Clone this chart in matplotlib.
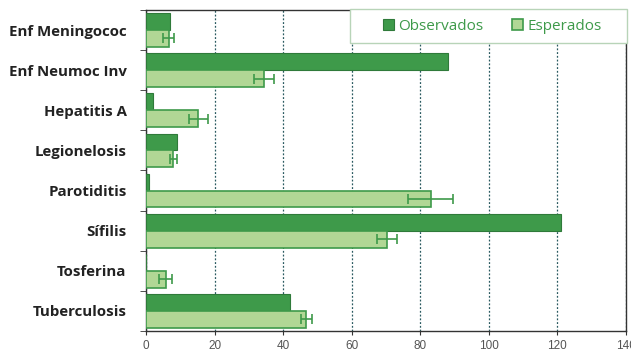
import numpy as np
import matplotlib.pyplot as plt
from matplotlib.ticker import FixedLocator
from matplotlib.patches import Rectangle

########  data  ########

enfermedades = ["Enf Meningococ", "Enf Neumoc Inv", "Hepatitis A", "Legionelosis",
                "Parotiditis", "Sífilis", "Tosferina", "Tuberculosis"]
observados = [7, 88, 2, 9, 1, 121, 0, 42]
esperados = [6.6, 34.3, 15.3, 8.0, 83.0, 70.3, 5.7, 46.8]
error_esp = [1.6, 2.9, 2.8, 1.0, 6.6, 2.8, 2.0, 1.7]

########  style  ########

verde = "#3e9a4a"
verde_claro = "#b1d795"
plt.rcParams["font.family"] = ["Open Sans", "DejaVu Sans"]

fig = plt.figure(figsize=(6.31, 3.51), dpi=100)
ax = fig.add_axes([0.2314, 0.057, 0.7606, 0.9145])

y = np.arange(len(enfermedades))
h = 0.42

ax.barh(y - h / 2, observados, height=h, color=verde, edgecolor="#2f7a3a",
        linewidth=0.8, label="Observados", zorder=3)
ax.barh(y + h / 2, esperados, height=h, color=verde_claro, edgecolor=verde,
        linewidth=1.2, label="Esperados", zorder=3)
ax.errorbar(esperados, y + h / 2, xerr=error_esp, fmt="none", ecolor=verde,
            elinewidth=1.2, capsize=3.5, capthick=1.2, zorder=4)

ax.set_xlim(0, 140)
ax.set_ylim(len(enfermedades) - 0.5, -0.5)
ax.set_xticks(range(0, 141, 20))
ax.set_yticks(y)
ax.set_yticklabels(enfermedades, fontweight="bold", fontsize=10.8, color="#222222")
ax.yaxis.set_minor_locator(FixedLocator(np.arange(-0.5, len(enfermedades), 1)))
ax.tick_params(axis="y", which="major", length=0, pad=14)
ax.tick_params(axis="y", which="minor", length=4, color="#333333")
ax.tick_params(axis="x", length=3, labelsize=8.5, labelcolor="#555555", color="#333333")
for lbl in ax.get_xticklabels():
    lbl.set_fontfamily(["Liberation Sans", "DejaVu Sans"])

ax.grid(axis="x", linestyle=(0, (1.5, 1.5)), color="#2a5a60", linewidth=0.9, zorder=0)
for s in ax.spines.values():
    s.set_color("#333333")
    s.set_linewidth(1.0)

########  legend  ########

caja = Rectangle((0.425, 0.897), 0.578, 0.106, transform=ax.transAxes,
                 facecolor="white", edgecolor="#b8d4b8", linewidth=1.0,
                 clip_on=False, zorder=9)
ax.add_patch(caja)

leg = ax.legend(loc="center", ncol=2, frameon=False,
                bbox_to_anchor=(0.721, 0.95), fontsize=11,
                handlelength=0.75, handleheight=0.75, handletextpad=0.25,
                columnspacing=1.9, labelcolor=verde)
leg.set_zorder(10)

plt.savefig("out.png", dpi=100)
plt.close()
